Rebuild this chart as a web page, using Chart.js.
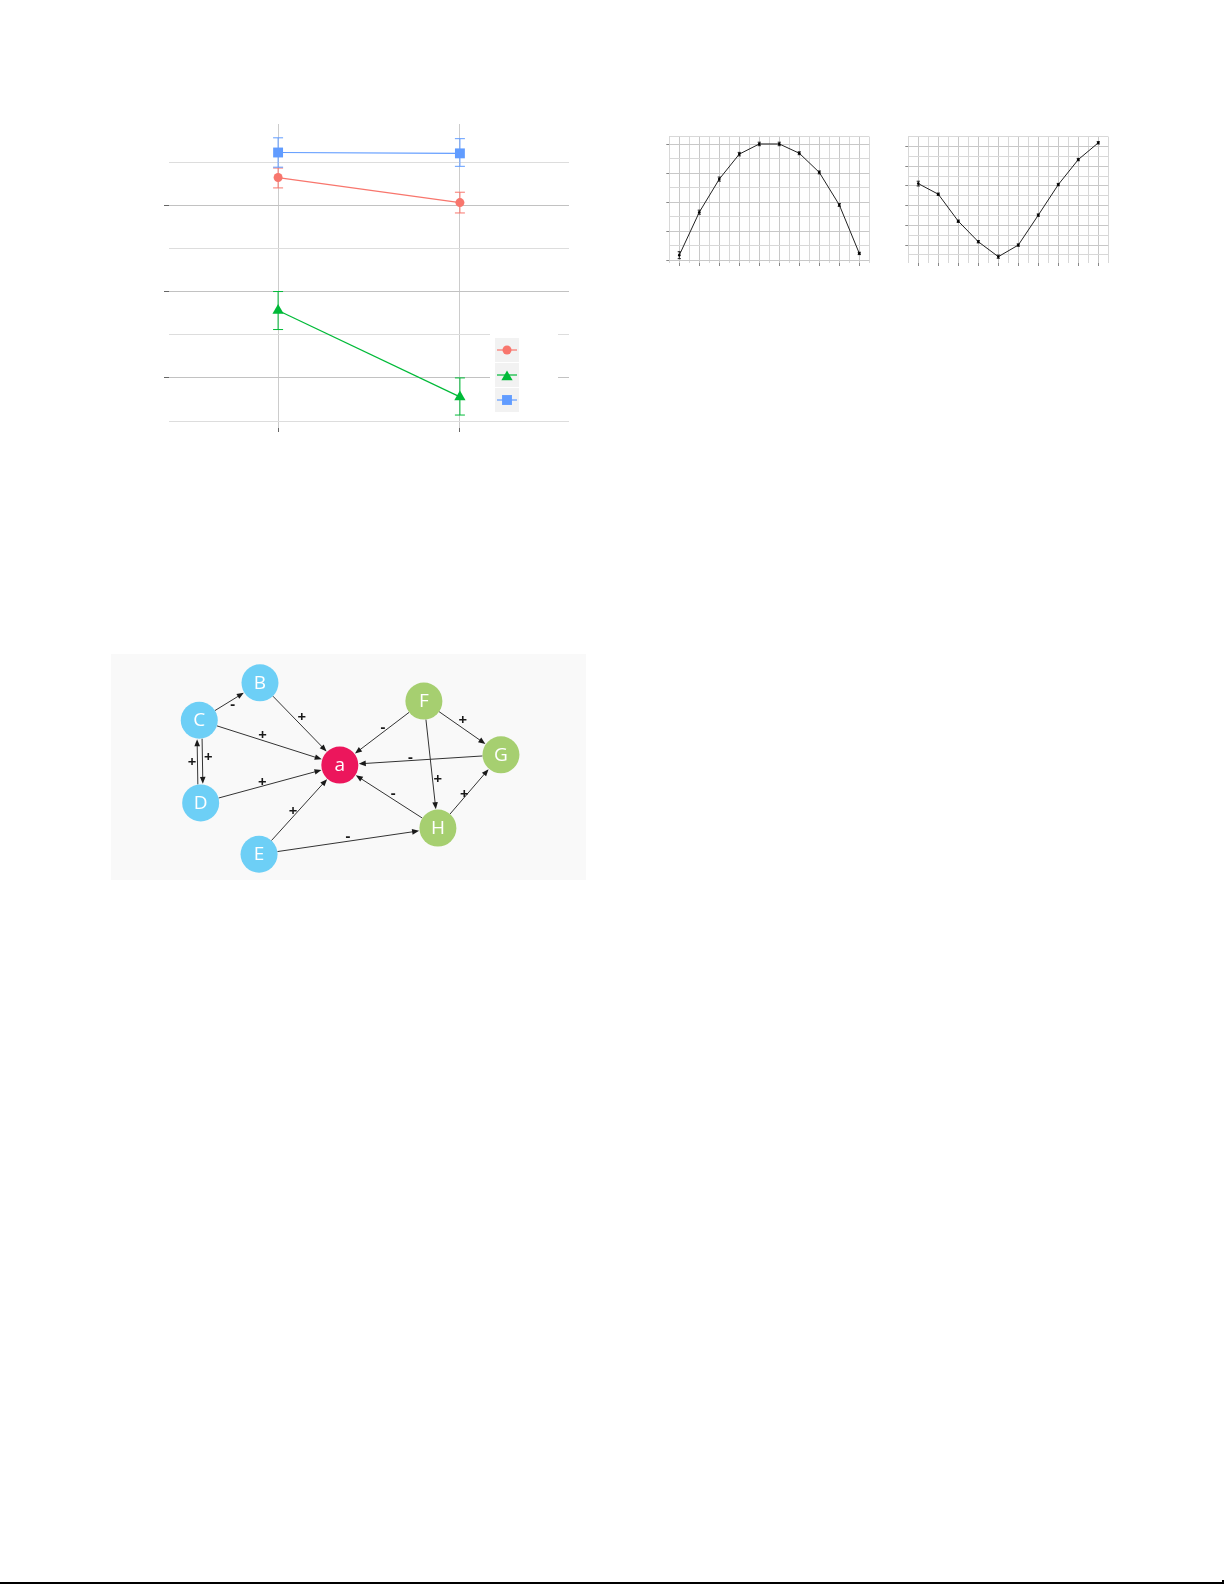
<!DOCTYPE html>
<html>
<head>
<meta charset="utf-8">
<script src="https://cdn.jsdelivr.net/npm/chart.js@4.4.1/dist/chart.umd.min.js"></script>
<style>
  html, body { margin: 0; padding: 0; background: #ffffff; }
  body { width: 1225px; height: 1585px; position: relative; overflow: hidden; }
  .box { position: absolute; }
  canvas { display: block; }
</style>
</head>
<body>
<div class="box" style="left:150px;top:110px;width:440px;height:340px"><canvas id="panelA" width="440" height="340"></canvas></div>
<div class="box" style="left:650px;top:125px;width:230px;height:150px"><canvas id="panelB" width="230" height="150"></canvas></div>
<div class="box" style="left:890px;top:125px;width:230px;height:150px"><canvas id="panelC" width="230" height="150"></canvas></div>
<div class="box" style="left:111px;top:654px;width:475px;height:226px;background:#f9f9f9"><canvas id="panelD" width="475" height="226"></canvas></div>
<div class="box" style="left:0px;top:1582px;width:1224px;height:2px;background:#000"></div>
<div class="box" style="left:1222px;top:1580px;width:2px;height:4px;background:#000"></div>

<script>
// ================= DATA =================
// Panel A: interaction plot (two groups, three series with error bars)
const groupPos = [1, 2];
const redMean = [3.32, 3.03];
const redLow = [3.20, 2.91];
const redHigh = [3.43, 3.15];
const greenMean = [1.78, 0.78];
const greenLow = [1.56, 0.57];
const greenHigh = [2.00, 1.00];
const blueMean = [3.61, 3.60];
const blueLow = [3.44, 3.45];
const blueHigh = [3.78, 3.77];
const panelAXTicks = [1, 2];
const panelAYTicks = [0.5, 1, 1.5, 2, 2.5, 3, 3.5];
const panelAYMajor = [1, 2, 3];

// Panels B and C: small grid line charts
const stepX = [1, 2, 3, 4, 5, 6, 7, 8, 9, 10];
const humpValues = [0.18, 1.66, 2.80, 3.66, 4.01, 4.01, 3.69, 3.03, 1.91, 0.24];
const humpErr = [0.12, 0.07, 0.07, 0.06, 0.06, 0.06, 0.05, 0.05, 0.05, 0.04];
const dipValues = [3.12, 2.58, 1.21, 0.17, -0.59, 0.00, 1.52, 3.07, 4.34, 5.19];
const dipErr = [0.12, 0.06, 0.06, 0.06, 0.08, 0.06, 0.06, 0.06, 0.06, 0.06];
const gridXTicks = [0.5, 1, 1.5, 2, 2.5, 3, 3.5, 4, 4.5, 5, 5.5, 6, 6.5, 7, 7.5, 8, 8.5, 9, 9.5, 10, 10.5];
const humpYTicks = [0, 0.5, 1, 1.5, 2, 2.5, 3, 3.5, 4, 4.26];
const dipYTicks = [-0.5, 0, 0.5, 1, 1.5, 2, 2.5, 3, 3.5, 4, 4.5, 5, 5.5];

// Panel D: network
const nodeNames = ['B', 'C', 'D', 'E', 'a', 'F', 'G', 'H'];
const nodeX = [3.19, 1.89, 1.92, 3.17, 4.90, 6.70, 8.35, 7.00];
const nodeY = [4.05, 3.25, 1.48, 0.38, 2.29, 3.66, 2.51, 0.94];
const nodeGroup = ['left', 'left', 'left', 'left', 'target', 'right', 'right', 'right'];
const edgeFrom = ['C', 'B', 'C', 'C', 'D', 'D', 'E', 'E', 'F', 'F', 'G', 'F', 'H', 'H'];
const edgeTo   = ['B', 'a', 'a', 'D', 'C', 'a', 'a', 'H', 'a', 'G', 'a', 'H', 'a', 'G'];
const edgeSign = ['-', '+', '+', '+', '+', '+', '+', '-', '-', '+', '-', '+', '-', '+'];
const edgeLabelT = [0.51, 0.47, 0.44, 0.46, 0.49, 0.45, 0.45, 0.50, 0.46, 0.46, 0.56, 0.62, 0.48, 0.44];
const edgeLabelOff = [4.7, -6.0, -4.4, -8.4, -8.0, -3.5, -3.2, -4.1, 3.8, -5.9, 3.3, -5.3, 4.4, -1.9];

// ================= STYLES =================
const RED = '#F8766D', GREEN = '#00BA38', BLUE = '#619CFF';
const groupColor = { left: '#6dcff6', target: '#ec165c', right: '#a6cf70' };

Chart.defaults.animation = false;
Chart.defaults.font.family = '"Open Sans", "DejaVu Sans", sans-serif';

const errorBarsPlugin = {
  id: 'errorBars',
  beforeDatasetsDraw(chart, args, opts) {
    const ctx = chart.ctx, ys = chart.scales.y;
    chart.data.datasets.forEach((ds, i) => {
      if (!ds.errLow) return;
      const meta = chart.getDatasetMeta(i);
      ctx.save();
      ctx.strokeStyle = ds.borderColor;
      ctx.lineWidth = opts.width || 1;
      meta.data.forEach((pt, j) => {
        const x = pt.x;
        const y1 = ys.getPixelForValue(ds.errLow[j]);
        const y2 = ys.getPixelForValue(ds.errHigh[j]);
        ctx.beginPath();
        ctx.moveTo(x, y1); ctx.lineTo(x, y2);
        ctx.moveTo(x - opts.cap, y1); ctx.lineTo(x + opts.cap, y1);
        ctx.moveTo(x - opts.cap, y2); ctx.lineTo(x + opts.cap, y2);
        ctx.stroke();
      });
      ctx.restore();
    });
  }
};

const pts = (xs, ys) => xs.map((x, i) => ({ x: x, y: ys[i] }));

// ================= PANEL A =================
const legendPlugin = {
  id: 'ggLegend',
  afterDraw(chart) {
    const ctx = chart.ctx;
    const ca = chart.chartArea;
    const bx = ca.left + 321, by = ca.top + 206;
    ctx.save();
    ctx.fillStyle = '#ffffff';
    ctx.fillRect(bx, by, 68, 87);
    chart.data.datasets.forEach((ds, i) => {
      const kx = bx + 5, ky = by + 8 + i * 25;
      ctx.fillStyle = '#f2f2f2';
      ctx.fillRect(kx, ky, 24, 24);
      const cx = kx + 12, cy = ky + 12;
      ctx.strokeStyle = ds.borderColor;
      ctx.lineWidth = 1.2;
      ctx.beginPath(); ctx.moveTo(kx + 2, cy); ctx.lineTo(kx + 22, cy); ctx.stroke();
      ctx.fillStyle = ds.borderColor;
      Chart.helpers.drawPoint(ctx, { pointStyle: ds.pointStyle, radius: ds.pointRadius, rotation: 0, borderWidth: 0 }, cx, cy + (ds.pointStyle === 'triangle' ? 2 : 0));
    });
    ctx.restore();
  }
};

const majorA = v => panelAYMajor.some(m => Math.abs(m - v) < 1e-6);

new Chart(document.getElementById('panelA'), {
  type: 'line',
  data: {
    datasets: [
      { data: pts(groupPos, redMean), errLow: redLow, errHigh: redHigh, borderColor: RED, backgroundColor: RED,
        pointStyle: 'circle', pointRadius: 4.5, pointBackgroundColor: RED, pointBorderWidth: 0, borderWidth: 1.2 },
      { data: pts(groupPos, greenMean), errLow: greenLow, errHigh: greenHigh, borderColor: GREEN, backgroundColor: GREEN,
        pointStyle: 'triangle', pointRadius: 6.5, pointBackgroundColor: GREEN, pointBorderWidth: 0, borderWidth: 1.2 },
      { data: pts(groupPos, blueMean), errLow: blueLow, errHigh: blueHigh, borderColor: BLUE, backgroundColor: BLUE,
        pointStyle: 'rect', pointRadius: 7, pointBackgroundColor: BLUE, pointBorderWidth: 0, borderWidth: 1.2 }
    ]
  },
  options: {
    responsive: false,
    events: [],
    layout: { padding: { left: 14, top: 14, right: 21, bottom: 18 }, autoPadding: false },
    plugins: { legend: { display: false }, tooltip: { enabled: false }, errorBars: { cap: 5, width: 1 } },
    scales: {
      x: {
        type: 'linear', min: 0.4, max: 2.6,
        afterBuildTicks: ax => { ax.ticks = panelAXTicks.map(v => ({ value: v })); },
        ticks: { display: false },
        border: { display: false },
        grid: { color: '#cccccc', lineWidth: 1, tickColor: '#666666', tickLength: 4 }
      },
      y: {
        type: 'linear', min: 0.42, max: 3.94,
        afterBuildTicks: ax => { ax.ticks = panelAYTicks.map(v => ({ value: v })); },
        ticks: { display: false },
        border: { display: false },
        grid: {
          color: c => (c.tick && majorA(c.tick.value)) ? '#c2c2c2' : '#dddddd',
          lineWidth: 1,
          tickColor: c => (c.tick && majorA(c.tick.value)) ? '#666666' : 'rgba(0,0,0,0)',
          tickLength: 5
        }
      }
    }
  },
  plugins: [errorBarsPlugin, legendPlugin]
});

// ================= PANELS B & C =================
function gridPanel(id, values, errs, ymin, ymax, yTicks, pad) {
  const isInt = v => Math.abs(v - Math.round(v)) < 1e-6;
  new Chart(document.getElementById(id), {
    type: 'line',
    data: {
      datasets: [{
        data: pts(stepX, values),
        errLow: values.map((v, i) => v - errs[i]),
        errHigh: values.map((v, i) => v + errs[i]),
        borderColor: '#222222', borderWidth: 1,
        pointRadius: 1.3, pointBackgroundColor: '#000000', pointBorderWidth: 0
      }]
    },
    options: {
      responsive: false,
      events: [],
      layout: { padding: pad, autoPadding: false },
      plugins: { legend: { display: false }, tooltip: { enabled: false }, errorBars: { cap: 1.6, width: 1 } },
      scales: {
        x: {
          type: 'linear', min: 0.5, max: 10.5,
          afterBuildTicks: ax => { ax.ticks = gridXTicks.map(v => ({ value: v })); },
          ticks: { display: false },
          border: { display: false },
          grid: {
            color: c => (c.tick && isInt(c.tick.value)) ? '#c8c8c8' : '#d8d8d8',
            tickColor: c => (c.tick && isInt(c.tick.value)) ? '#888888' : 'rgba(0,0,0,0)',
            tickLength: 3
          }
        },
        y: {
          type: 'linear', min: ymin, max: ymax,
          afterBuildTicks: ax => { ax.ticks = yTicks.map(v => ({ value: v })); },
          ticks: { display: false },
          border: { display: false },
          grid: {
            color: c => (c.tick && isInt(c.tick.value)) ? '#c8c8c8' : '#d8d8d8',
            tickColor: c => (c.tick && isInt(c.tick.value)) ? '#888888' : 'rgba(0,0,0,0)',
            tickLength: 3
          }
        }
      }
    },
    plugins: [errorBarsPlugin]
  });
}
gridPanel('panelB', humpValues, humpErr, -0.09, 4.26, humpYTicks, { left: 16.3, top: 11.7, right: 10.7, bottom: 9 });
gridPanel('panelC', dipValues, dipErr, -0.91, 5.5, dipYTicks, { left: 15.3, top: 11.7, right: 11.7, bottom: 9 });

// ================= PANEL D (network) =================
const NODE_R = 18.5;
const networkPlugin = {
  id: 'network',
  beforeDatasetsDraw(chart) {
    const ctx = chart.ctx, xs = chart.scales.x, ys = chart.scales.y;
    const P = name => { const k = nodeNames.indexOf(name); return { x: xs.getPixelForValue(nodeX[k]), y: ys.getPixelForValue(nodeY[k]) }; };
    ctx.save();
    edgeFrom.forEach((f, i) => {
      const t = edgeTo[i];
      const A = P(f), B = P(t);
      const dx = B.x - A.x, dy = B.y - A.y, len = Math.hypot(dx, dy);
      const ux = dx / len, uy = dy / len, nx = -uy, ny = ux;
      const hasReverse = edgeFrom.some((g, j) => g === t && edgeTo[j] === f);
      const s = hasReverse ? -2.5 : 0;
      const sx = A.x + ux * NODE_R + nx * s, sy = A.y + uy * NODE_R + ny * s;
      const ex = B.x - ux * (NODE_R + 0.5) + nx * s, ey = B.y - uy * (NODE_R + 0.5) + ny * s;
      const AL = 7, AW = 2.8;
      ctx.strokeStyle = '#333333';
      ctx.lineWidth = 1;
      ctx.beginPath();
      ctx.moveTo(sx, sy);
      ctx.lineTo(ex - ux * (AL - 1), ey - uy * (AL - 1));
      ctx.stroke();
      ctx.fillStyle = '#1a1a1a';
      ctx.beginPath();
      ctx.moveTo(ex, ey);
      ctx.lineTo(ex - ux * AL + nx * AW, ey - uy * AL + ny * AW);
      ctx.lineTo(ex - ux * AL - nx * AW, ey - uy * AL - ny * AW);
      ctx.closePath();
      ctx.fill();
      // sign label
      const lx = A.x + dx * edgeLabelT[i] + nx * edgeLabelOff[i];
      const ly = A.y + dy * edgeLabelT[i] + ny * edgeLabelOff[i];
      ctx.fillStyle = '#1a1a1a';
      ctx.font = '700 15px "Open Sans", "DejaVu Sans", sans-serif';
      ctx.textAlign = 'center';
      ctx.textBaseline = 'middle';
      ctx.fillText(edgeSign[i], lx, ly);
    });
    ctx.restore();
  },
  afterDatasetsDraw(chart) {
    const ctx = chart.ctx, xs = chart.scales.x, ys = chart.scales.y;
    ctx.save();
    ctx.fillStyle = '#ffffff';
    ctx.font = '19px "Open Sans", "DejaVu Sans", sans-serif';
    ctx.textAlign = 'center';
    ctx.textBaseline = 'middle';
    nodeNames.forEach((n, k) => {
      ctx.fillText(n, xs.getPixelForValue(nodeX[k]), ys.getPixelForValue(nodeY[k]) + 0.5);
    });
    ctx.restore();
  }
};

new Chart(document.getElementById('panelD'), {
  type: 'scatter',
  data: {
    datasets: [{
      data: pts(nodeX, nodeY),
      pointRadius: NODE_R,
      pointHoverRadius: NODE_R,
      pointBackgroundColor: nodeGroup.map(g => groupColor[g]),
      pointBorderWidth: 0,
      clip: false
    }]
  },
  options: {
    responsive: false,
    events: [],
    layout: { padding: 0, autoPadding: false },
    plugins: { legend: { display: false }, tooltip: { enabled: false } },
    scales: {
      x: { type: 'linear', min: 0, max: 10.171, display: false },
      y: { type: 'linear', min: -0.171, max: 4.668, display: false }
    }
  },
  plugins: [networkPlugin]
});
</script>
</body>
</html>
